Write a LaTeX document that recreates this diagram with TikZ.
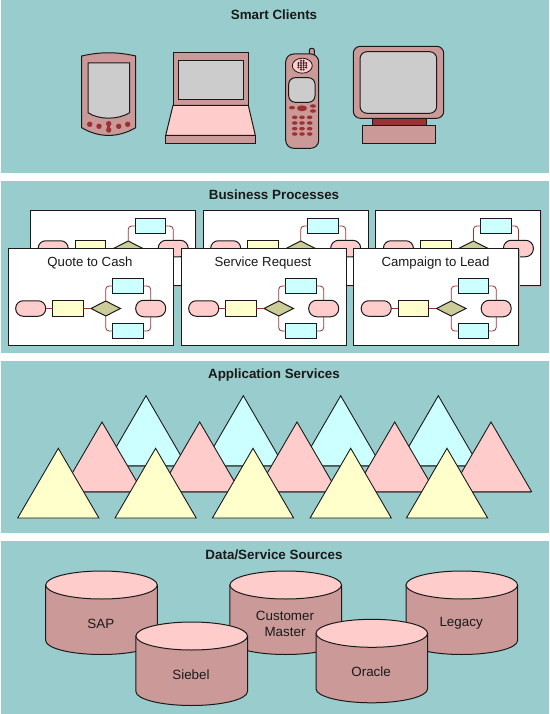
\documentclass[tikz,border=0pt]{standalone}
\usepackage{fontspec}
\setmainfont{Liberation Sans}
\definecolor{panelc}{HTML}{99CCCC}
\definecolor{duskc}{HTML}{CC9999}
\definecolor{pinkc}{HTML}{FFCCCC}
\definecolor{grayc}{HTML}{CCCCCC}
\definecolor{yelc}{HTML}{FFFFCC}
\definecolor{cyanc}{HTML}{CCFFFF}
\definecolor{khakic}{HTML}{CCCC99}
\definecolor{redc}{HTML}{993333}
\definecolor{inkc}{HTML}{1A1A1A}
\definecolor{shadec}{HTML}{667777}
\usetikzlibrary{shapes.geometric,calc}
\tikzset{
  panel/.style={fill=panelc,draw=none},
  heading/.style={font=\fontsize{13.4}{15}\selectfont\bfseries,text=inkc,inner sep=0pt},
  ln/.style={draw=inkc,line width=1pt},
  card/.style={ln,fill=white,rectangle,anchor=north west,minimum width=165pt,inner sep=0pt,outer sep=0pt},
  cardtitle/.style={font=\fontsize{13.2}{15}\selectfont,text=inkc,inner sep=0pt},
  pill/.style={ln,fill=pinkc,rectangle,rounded corners=7.5pt,minimum width=30pt,minimum height=15.5pt,inner sep=0pt,outer sep=0pt},
  taskbox/.style={ln,fill=yelc,rectangle,minimum width=30.5pt,minimum height=15.5pt,inner sep=0pt,outer sep=0pt},
  altbox/.style={ln,fill=cyanc,rectangle,minimum width=30.5pt,minimum height=15pt,inner sep=0pt,outer sep=0pt},
  gate/.style={ln,fill=khakic,diamond,aspect=2,minimum width=29.5pt,minimum height=15pt,inner sep=0pt,outer sep=0pt},
  flow/.style={draw=redc,line width=.8pt,rounded corners=3.5pt},
  tri/.style={draw=inkc,line width=.9pt,line join=miter},
  baseshade/.style={draw=shadec,line width=1.6pt},
  dbtext/.style={font=\fontsize{13.4}{15.8}\selectfont,text=inkc,align=center,inner sep=0pt},
  device/.style={draw=inkc,line width=1pt},
  dot/.style={fill=redc,draw=none},
}
% #1 name prefix, #2 x, #3 y of the card's top left corner, #4 height, #5 title, #6 y of the flow's centre line in the card
\newcommand{\flowcard}[6]{
  \fill[gray!60] ($(#2,#3)+(1.2,1.2)$) rectangle ($(#2,#3)+(166.2,#4+1.2)$);
  \node[card,minimum height=#4pt] (#1card) at (#2,#3) {};
  \node[cardtitle] (#1title) at ($(#2,#3)+(82,14.7)$) {#5};
  \node[altbox] (#1up) at ($(#2,#3)+(120.2,#6-22.5)$) {};
  \node[altbox] (#1dn) at ($(#2,#3)+(120.2,#6+22.5)$) {};
  \node[pill] (#1start) at ($(#2,#3)+(22.7,#6)$) {};
  \node[taskbox] (#1task) at ($(#2,#3)+(60.2,#6)$) {};
  \node[gate] (#1gate) at ($(#2,#3)+(97.7,#6)$) {};
  \node[pill,minimum height=16.5pt,rounded corners=8pt] (#1end) at ($(#2,#3)+(142.7,#6)$) {};
  \draw[flow] (#1start) -- (#1task);
  \draw[flow] (#1task) -- (#1gate);
  \draw[flow] (#1gate.north) |- (#1up.west);
  \draw[flow] (#1gate.south) |- (#1dn.west);
  \draw[flow] (#1up.east) -| (#1end.north);
  \draw[flow] (#1dn.east) -| (#1end.south);
}
% #1 name, #2 cx, #3 cy of top ellipse, #4 label
\newcommand{\dbcyl}[4]{
  \filldraw[ln,fill=duskc] (#2-55.8,#3) -- (#2-55.8,#3+55.5) arc[start angle=180,end angle=360,x radius=55.8,y radius=-14]
     -- (#2+55.8,#3) -- cycle;
  \filldraw[ln,fill=pinkc] (#2,#3) ellipse[x radius=55.8,y radius=14];
  \node[dbtext] (#1) at (#2-0.7,#3+38.6) {#4};
}
\begin{document}
\begin{tikzpicture}[x=1pt,y=-1pt]
\useasboundingbox (0,0) rectangle (549,714);
\fill[white] (0,0) rectangle (549,714);
\fill[panel] (1,0) rectangle (549,173);
\fill[panel] (1,181) rectangle (549,353);
\fill[panel] (1,361) rectangle (549,533);
\fill[panel] (1,541) rectangle (549,714);
\node[heading] (h1) at (274,15) {Smart Clients};
\node[heading] (h2) at (274,195) {Business Processes};
\node[heading] (h3) at (274,375) {Application Services};
\node[heading] (h4) at (274,555) {Data/Service Sources};

% PDA
\filldraw[device,fill=duskc] (81.7,56) .. controls (100,51.7) and (117,51.7) .. (135.7,56) -- (135.7,127.7)
  .. controls (118,138) and (99,138) .. (81.7,127.7) -- cycle;
\filldraw[device,fill=grayc] (88,63) -- (129.7,63) -- (129.7,112.7) .. controls (118,120) and (99,120) .. (88,112.7) -- cycle;
\foreach \dx/\dy in {89.7/124.3,99/126.3,118.7/126.3,127.7/124.3,108.7/123.7,108.7/130}
  \fill[dot] (\dx,\dy) circle (2.7);
\fill[dot] (107.4,124) rectangle (110,130);
% Laptop
\filldraw[device,fill=duskc] (173,53) rectangle (248.3,105.3);
\filldraw[device,fill=grayc] (178.3,60.3) rectangle (243.3,99.3);
\filldraw[device,fill=pinkc] (173,105.3) -- (248.3,105.3) -- (255.3,135.3) -- (165.7,135.3) -- cycle;
\filldraw[device,fill=duskc] (165.7,135.3) rectangle (255.3,143.3);
% Phone
\filldraw[device,fill=duskc,rounded corners=2pt] (309.3,56) -- (309.3,48.3) -- (314.3,48.3) -- (314.3,56) -- cycle;
\filldraw[device,fill=duskc,rounded corners=8pt] (285.7,54) rectangle (318.7,148.3);
\filldraw[device,fill=pinkc,line width=.8pt] (302.3,65.7) ellipse[x radius=10,y radius=7.5];
\foreach \ex/\ey in {301/60.8,303.6/60.8,298.4/63,301/63,303.6/63,306.2/63,298.4/65.2,301/65.2,303.6/65.2,306.2/65.2,298.4/67.4,301/67.4,303.6/67.4,306.2/67.4,301/69.6,303.6/69.6}
  \fill[inkc!75!redc] (\ex,\ey) circle (1.15);
\filldraw[device,fill=grayc,rounded corners=6.5pt] (288.7,77.7) rectangle (315,102.3);
\fill[dot] (302,108.3) ellipse[x radius=5,y radius=3];
\foreach \kx/\ky in {292/107.7,313/106,313/111}
  \fill[dot] (\kx,\ky) ellipse[x radius=3,y radius=1.8];
\foreach \kx in {294.7,302,309.7} \foreach \ky in {117.3,123,128.7,134}
  \fill[dot] (\kx,\ky) ellipse[x radius=2.8,y radius=1.8];
% Monitor
\filldraw[device,fill=duskc,rounded corners=7pt] (353.3,46.3) rectangle (443.7,118.3);
\filldraw[device,fill=grayc,rounded corners=7pt] (360,51.7) rectangle (436.7,113.3);
\filldraw[device,fill=redc] (372.3,118.3) rectangle (426.7,125.7);
\filldraw[device,fill=duskc] (362.3,125.7) rectangle (435.3,143.7);

% Business processes
\flowcard{ba}{30.5}{210.5}{75}{}{38}
\flowcard{bb}{203}{210.5}{75}{}{38}
\flowcard{bc}{375.7}{210.5}{75}{}{38}
\flowcard{fa}{8}{248}{97}{Quote to Cash}{60.5}
\flowcard{fb}{181}{248}{97}{Service Request}{60.5}
\flowcard{fc}{353.5}{248}{97}{Campaign to Lead}{60.5}

% Application services
\foreach \ax in {146,243.3,340.7,438.3} {
  \draw[baseshade] (\ax-40,466.2) -- (\ax+40,466.2);
  \filldraw[tri,fill=cyanc] (\ax,395.7) -- (\ax+40.6,465.7) -- (\ax-40.6,465.7) -- cycle;
}
\foreach \ax in {102,199.7,297,394.7,491} {
  \draw[baseshade] (\ax-40,492.2) -- (\ax+40,492.2);
  \filldraw[tri,fill=pinkc] (\ax,422) -- (\ax+40.6,491.7) -- (\ax-40.6,491.7) -- cycle;
}
\foreach \ax in {58.3,155.6,253,350.7,447} 
  \filldraw[tri,fill=yelc] (\ax,448.3) -- (\ax+40.6,518) -- (\ax-40.6,518) -- cycle;

% Data sources
\dbcyl{sap}{101.5}{585}{SAP}
\dbcyl{cust}{285.7}{585}{Customer\\Master}
\dbcyl{leg}{461.8}{585}{Legacy}
\dbcyl{sieb}{191.7}{636}{Siebel}
\dbcyl{orac}{371.8}{633.3}{Oracle}
\end{tikzpicture}
\end{document}
